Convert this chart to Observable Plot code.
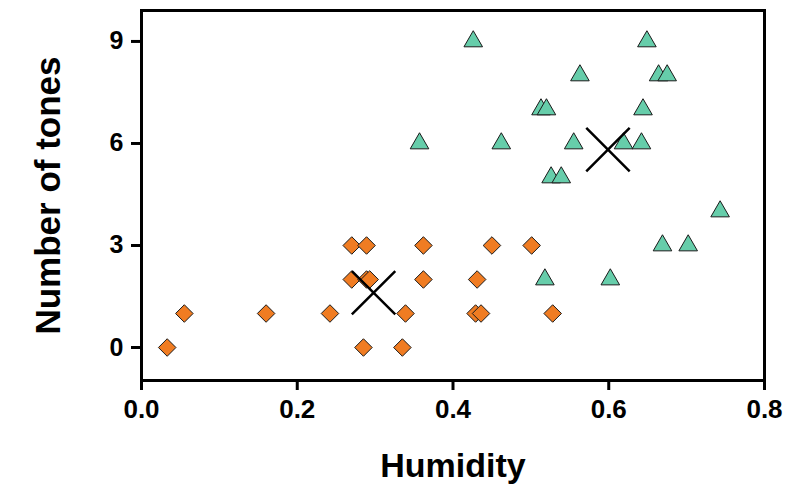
<!DOCTYPE html>
<html><head><meta charset="utf-8">
<script src="https://cdn.jsdelivr.net/npm/d3@7"></script>
<script src="https://cdn.jsdelivr.net/npm/@observablehq/plot@0.6"></script>
<style>body{margin:0;background:#fff}</style>
</head><body><div id="chart"></div>
<script>
// Group A (orange diamonds)
const humidityA = [0.033, 0.285, 0.335,
  0.055, 0.160, 0.242, 0.339, 0.429, 0.436, 0.528,
  0.270, 0.289, 0.293, 0.362, 0.431,
  0.270, 0.289, 0.362, 0.450, 0.501];
const tonesA = [0, 0, 0,
  1, 1, 1, 1, 1, 1, 1,
  2, 2, 2, 2, 2,
  3, 3, 3, 3, 3];
// Group B (green triangles)
const humidityB = [0.426, 0.649, 0.563, 0.664, 0.675, 0.513, 0.520, 0.644,
  0.357, 0.462, 0.555, 0.619, 0.642, 0.526, 0.539, 0.743, 0.669, 0.702, 0.518, 0.602];
const tonesB = [9, 9, 8, 8, 8, 7, 7, 7,
  6, 6, 6, 6, 6, 5, 5, 4, 3, 3, 2, 2];
// Group centres (X marks)
const centerHumidity = [0.298, 0.599];
const centerTones = [1.61, 5.82];

const xTicks = [0, 0.2, 0.4, 0.6, 0.8];
const yTicks = [0, 3, 6, 9];
const xLabel = "Humidity";
const yLabel = "Number of tones";

const groupA = humidityA.map((h, i) => ({h, t: tonesA[i]}));
const groupB = humidityB.map((h, i) => ({h, t: tonesB[i]}));
const centers = centerHumidity.map((h, i) => ({h, t: centerTones[i]}));

const plot = Plot.plot({
  width: 805, height: 486,
  marginLeft: 141, marginRight: 41, marginTop: 10, marginBottom: 106,
  style: {fontFamily: "'Liberation Sans', Arial, sans-serif", fontWeight: "bold", background: "white", color: "black"},
  x: {domain: [0, 0.8]},
  y: {domain: [-0.97, 9.91]},
  marks: [
    Plot.axisX(xTicks, {tickSize: 10, tickPadding: 9, strokeWidth: 3, fontSize: 26, fontWeight: "bold", tickFormat: d3.format(".1f"), label: null}),
    Plot.axisY(yTicks, {tickSize: 10, tickPadding: 8, strokeWidth: 3, fontSize: 25, fontWeight: "bold", label: null}),
    Plot.frame({stroke: "black", strokeWidth: 3}),
    Plot.dot(groupA, {x: "h", y: "t", symbol: "diamond2", r: 7.9, fill: "#f07c22", stroke: "#1a1a1a", strokeWidth: 1}),
    Plot.dot(groupB, {x: "h", y: "t", symbol: "triangle", r: 6.9, fill: "#66cdaa", stroke: "#1a1a1a", strokeWidth: 1}),
    Plot.dot(centers, {x: "h", y: "t", symbol: "times", r: 19.8, fill: "none", stroke: "black", strokeWidth: 2.5}),
    Plot.text([xLabel], {text: d => d, frameAnchor: "bottom", dy: 86, fontSize: 34, fontWeight: "bold", lineAnchor: "middle", textAnchor: "middle"}),
    Plot.text([yLabel], {text: d => d, frameAnchor: "left", dx: -93, rotate: -90, fontSize: 35, fontWeight: "bold", lineAnchor: "middle", textAnchor: "middle"})
  ]
});
document.getElementById("chart").appendChild(plot);
</script>
</body></html>
